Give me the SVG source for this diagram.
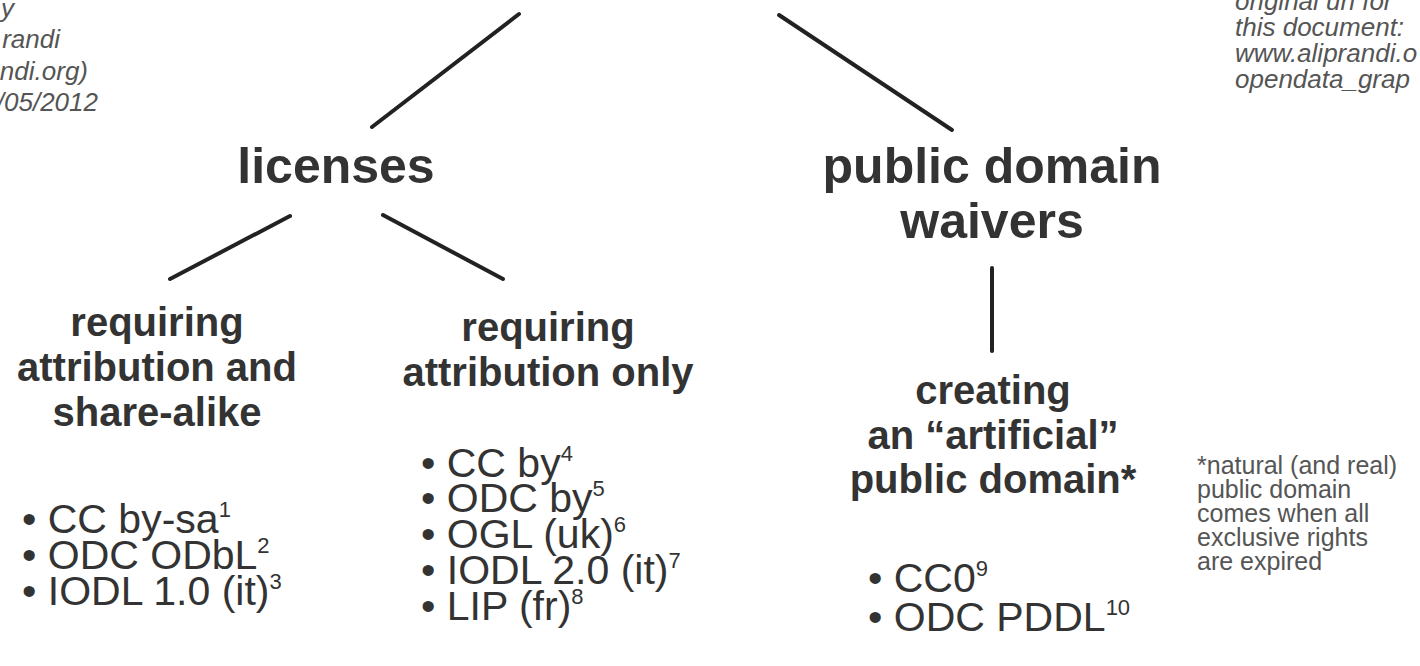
<svg xmlns="http://www.w3.org/2000/svg" width="1420" height="666" viewBox="0 0 1420 666">
<style>
.h{font-family:"Liberation Sans",Arial,sans-serif;font-weight:bold;fill:#333;text-anchor:middle}
.h1{font-size:50px}
.h2{font-size:40px}
.li{font-family:"Liberation Sans",Arial,sans-serif;font-size:41px;fill:#333}
.sup{font-size:22px}
.note{font-family:"Liberation Sans",Arial,sans-serif;font-size:25px;fill:#555}
.corner{font-family:"Liberation Sans",Arial,sans-serif;font-size:26px;font-style:italic;fill:#555}
.edge{stroke:#222;stroke-width:4;stroke-linecap:round;fill:none}
</style>
<rect width="1420" height="666" fill="#fff"/>
<g id="connectors">
<line class="edge" x1="519" y1="14" x2="372" y2="127"/>
<line class="edge" x1="779" y1="15" x2="952" y2="130"/>
<line class="edge" x1="290" y1="216" x2="170" y2="279"/>
<line class="edge" x1="383" y1="215" x2="503" y2="279"/>
<line class="edge" x1="992" y1="268" x2="992" y2="351"/>
</g>
<g id="credit">
<text class="corner" text-anchor="end"><tspan x="14" y="17">y</tspan><tspan x="60" y="48">randi</tspan><tspan x="88" y="80">ndi.org)</tspan><tspan x="98" y="111">/05/2012</tspan></text>
</g>
<g id="url">
<text class="corner"><tspan x="1235" y="10">original url for</tspan><tspan x="1235" y="36">this document:</tspan><tspan x="1235" y="62">www.aliprandi.o</tspan><tspan x="1235" y="88">opendata_grap</tspan></text>
</g>
<g id="licenses">
<text class="h h1" x="336" y="183">licenses</text>
</g>
<g id="public-domain-waivers">
<text class="h h1"><tspan x="992" y="183">public domain</tspan><tspan x="992" y="238">waivers</tspan></text>
</g>
<g id="share-alike">
<text class="h h2"><tspan x="157" y="336">requiring</tspan><tspan x="157" y="381">attribution and</tspan><tspan x="157" y="426">share-alike</tspan></text>
<text class="li"><tspan x="22" y="533">• CC by-sa<tspan class="sup" dy="-16">1</tspan></tspan><tspan x="22" y="569">• ODC ODbL<tspan class="sup" dy="-16">2</tspan></tspan><tspan x="22" y="605">• IODL 1.0 (it)<tspan class="sup" dy="-16">3</tspan></tspan></text>
</g>
<g id="attribution-only">
<text class="h h2"><tspan x="548" y="341">requiring</tspan><tspan x="548" y="386">attribution only</tspan></text>
<text class="li"><tspan x="421" y="477">• CC by<tspan class="sup" dy="-16">4</tspan></tspan><tspan x="421" y="512">• ODC by<tspan class="sup" dy="-16">5</tspan></tspan><tspan x="421" y="548">• OGL (uk)<tspan class="sup" dy="-16">6</tspan></tspan><tspan x="421" y="584">• IODL 2.0 (it)<tspan class="sup" dy="-16">7</tspan></tspan><tspan x="421" y="620">• LIP (fr)<tspan class="sup" dy="-16">8</tspan></tspan></text>
</g>
<g id="artificial-public-domain">
<text class="h h2"><tspan x="993" y="404">creating</tspan><tspan x="993" y="449">an “artificial”</tspan><tspan x="993" y="493">public domain*</tspan></text>
<text class="li"><tspan x="868" y="592">• CC0<tspan class="sup" dy="-16">9</tspan></tspan><tspan x="868" y="631">• ODC PDDL<tspan class="sup" dy="-16">10</tspan></tspan></text>
</g>
<g id="footnote">
<text class="note"><tspan x="1197" y="474">*natural (and real)</tspan><tspan x="1197" y="498">public domain</tspan><tspan x="1197" y="522">comes when all</tspan><tspan x="1197" y="546">exclusive rights</tspan><tspan x="1197" y="570">are expired</tspan></text>
</g>
</svg>
